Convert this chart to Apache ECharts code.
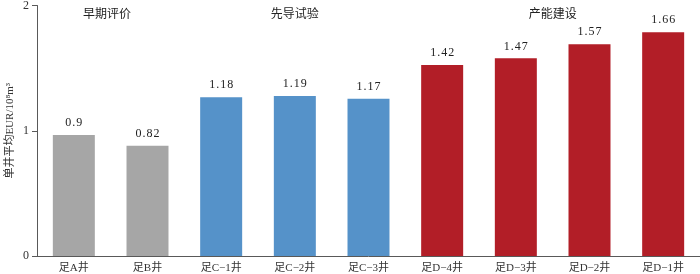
<!DOCTYPE html>
<html><head><meta charset="utf-8">
<script src="https://cdn.jsdelivr.net/npm/echarts@6/dist/echarts.min.js"></script>
<style>html,body{margin:0;padding:0;background:#fff}#c{width:700px;height:274px}</style>
</head><body><div id="c"></div>
<script>
var categories = ['足A井','足B井','足C\u22121井','足C\u22122井','足C\u22123井','足D\u22124井','足D\u22123井','足D\u22122井','足D\u22121井'];
// bar heights as drawn in the picture (axis units)
var barValues = [0.966, 0.881, 1.267, 1.277, 1.256, 1.525, 1.578, 1.690, 1.786];
// value labels printed above bars
var valueLabels = ['0.9','0.82','1.18','1.19','1.17','1.42','1.47','1.57','1.66'];
var stageOf = [0,0,1,1,1,2,2,2,2];
var stageNames = ['早期评价','先导试验','产能建设'];
var stageColors = ['#A6A6A6','#5592C9','#B21E27'];
var stageLabelPos = [0.45, 3, 6.5]; // category-index position of stage titles
var yTicks = [0, 1, 2];
var yName = '单井平均EUR/10\u2078m\u00b3';

var chart = echarts.init(document.getElementById('c'));
var serif = '"Liberation Serif","Noto Sans CJK SC",serif';
chart.setOption({
  animation:false,
  grid:{left:37,right:0,top:5.5,bottom:18,containLabel:false,outerBoundsMode:'none'},
  xAxis:{type:'category',data:categories,
    axisLine:{lineStyle:{color:'#595959',width:1}},axisTick:{show:false},
    axisLabel:{color:'#333',fontSize:11,fontFamily:serif,margin:7}},
  yAxis:{type:'value',min:yTicks[0],max:yTicks[yTicks.length-1],interval:1,
    axisLine:{show:true,lineStyle:{color:'#595959'}},
    axisTick:{show:true,inside:false,length:5,lineStyle:{color:'#595959'}},
    splitLine:{show:false},
    axisLabel:{color:'#333',fontSize:12,fontFamily:serif,margin:8}},
  series:[{type:'bar',barWidth:'57%',
    data:barValues.map(function(v,i){return {value:v,itemStyle:{color:stageColors[stageOf[i]]}};}),
    label:{show:true,position:'top',distance:6,color:'#222',fontSize:12,fontFamily:serif,
      formatter:function(p){return valueLabels[p.dataIndex].split('').join('\u200a');}}}]
});
var p0 = chart.convertToPixel({gridIndex:0},[0,2])[0];
var p1 = chart.convertToPixel({gridIndex:0},[1,2])[0];
var g = stageNames.map(function(n,i){
  var x = p0 + stageLabelPos[i]*(p1-p0);
  return {type:'text',x:x,y:15,style:{text:n,fill:'#222',font:'12px '+serif,align:'center',verticalAlign:'middle'}};
});
var yMid = (chart.convertToPixel({gridIndex:0},[0,0])[1] + chart.convertToPixel({gridIndex:0},[0,2])[1]) / 2;
g.push({type:'text',x:10,y:yMid,rotation:Math.PI/2,
  style:{text:yName,fill:'#333',font:'11px '+serif,align:'center',verticalAlign:'middle'}});
chart.setOption({graphic:g});
</script></body></html>
